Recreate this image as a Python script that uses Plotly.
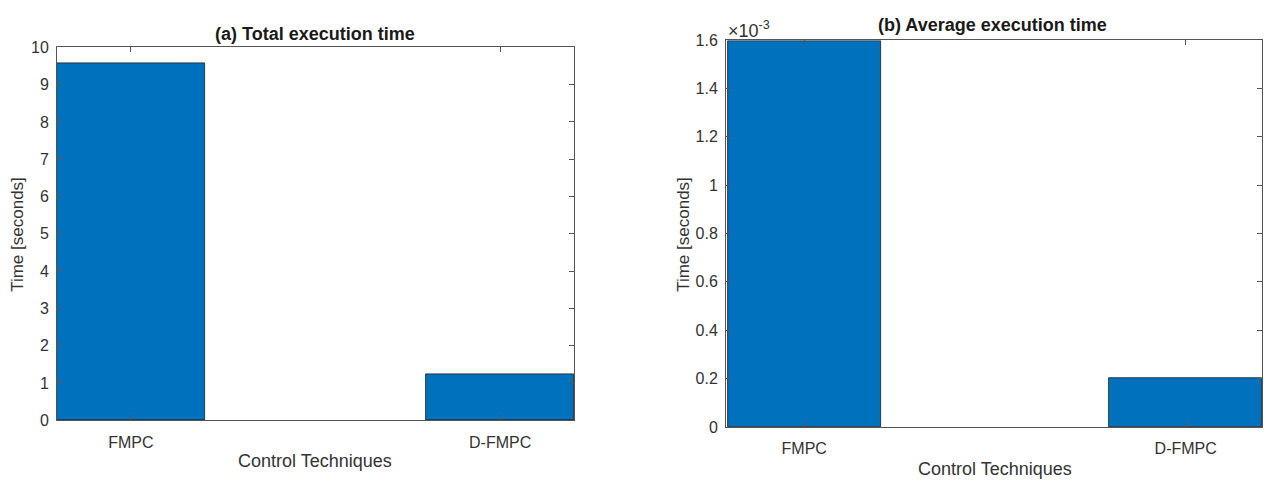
import plotly.graph_objects as go

categories = ["FMPC", "D-FMPC"]
cat_pos = [1, 2]
total_time = [9.56, 1.23]          # seconds
avg_time = [1.595e-3, 0.2e-3]      # seconds
left_ticks = [0, 1, 2, 3, 4, 5, 6, 7, 8, 9, 10]
right_tick_labels = ["0", "0.2", "0.4", "0.6", "0.8", "1", "1.2", "1.4", "1.6"]
right_scale = 1e-3

BAR = "#0072BD"
AX = "#555555"
FONT = "Liberation Sans, Arial, sans-serif"

fig = go.Figure()
fig.add_trace(go.Bar(x=cat_pos, y=total_time, width=0.4,
                     marker=dict(color=BAR, line=dict(color="#1a1a1a", width=0.8)),
                     xaxis="x", yaxis="y", showlegend=False))
fig.add_trace(go.Bar(x=cat_pos, y=avg_time, width=0.4,
                     marker=dict(color=BAR, line=dict(color="#1a1a1a", width=0.8)),
                     xaxis="x2", yaxis="y2", showlegend=False))

H = 489.0
W = 1264.0
def py(p):
    return 1 - p / H
def px(p):
    return p / W

axis_common = dict(showline=True, linecolor=AX, linewidth=1, mirror="allticks", ticks="inside",
                   ticklen=5, tickcolor=AX, showgrid=False, zeroline=False,
                   tickfont=dict(family=FONT, size=16, color="#333333"))

fig.update_layout(
    width=1264, height=489,
    margin=dict(l=0, r=0, t=0, b=0),
    paper_bgcolor="white", plot_bgcolor="white",
    font=dict(family=FONT, color="#333333"),
    xaxis=dict(domain=[px(57), px(574)], range=[0.8, 2.2], tickvals=cat_pos, ticktext=categories,
               anchor="y", ticklabelstandoff=7, **axis_common),
    yaxis=dict(domain=[py(427.3), py(40.7)], range=[0, 10], tickvals=left_ticks,
               ticktext=[str(t) for t in left_ticks], anchor="x", ticklabelstandoff=4, **axis_common),
    xaxis2=dict(domain=[px(726), px(1262)], range=[0.795, 2.2], tickvals=cat_pos, ticktext=categories,
                anchor="y2", ticklabelstandoff=7, **axis_common),
    yaxis2=dict(domain=[py(434), py(33.3)], range=[0, 1.6e-3],
                tickvals=[float(t) * right_scale for t in right_tick_labels],
                ticktext=right_tick_labels, anchor="x2", ticklabelstandoff=4, **axis_common),
    bargap=0,
)

ann = []
def a(text, x, y, size=17, bold=False, angle=0, xanchor="center", yanchor="middle"):
    ann.append(dict(text=("<b>%s</b>" % text) if bold else text, x=px(x), y=py(y),
                    xref="paper", yref="paper", showarrow=False,
                    font=dict(family=FONT, size=size, color="#1a1a1a" if bold else "#333333"),
                    textangle=angle, xanchor=xanchor, yanchor=yanchor))

a("(a) Total execution time", 315, 26.7, size=18, bold=True)
a("(b) Average execution time", 992, 18, size=18, bold=True)
a("Control Techniques", 315, 469, size=18)
a("Control Techniques", 995, 478, size=18)
a("Time [seconds]", 18, 235, size=17, angle=-90)
a("Time [seconds]", 684, 235, size=17, angle=-90)
a("×10<sup>-3</sup>", 726, 22, size=18, xanchor="left")
fig.update_layout(annotations=ann)

fig.write_html("out.html", config={"displayModeBar": False},
               post_script="document.body.style.margin='0';")
